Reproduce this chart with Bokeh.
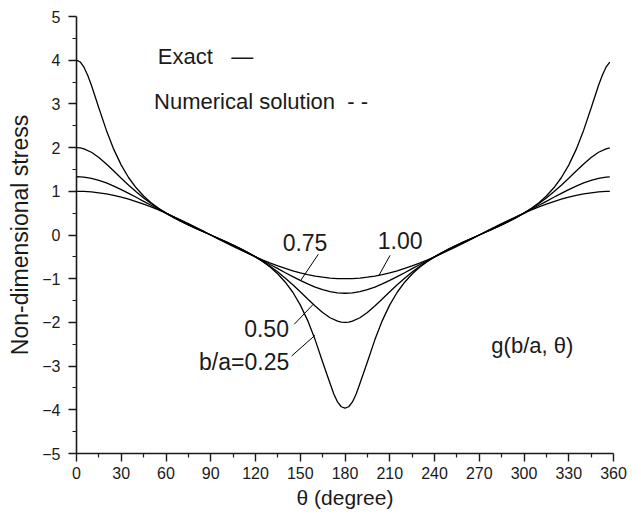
from bokeh.plotting import figure
from bokeh.models import Range1d, FixedTicker, Label
from bokeh.embed import file_html
from bokeh.resources import INLINE

# ---- data ----
theta = ([0, 2.5] + list(range(5, 180, 5)) + [177.5, 180, 182.5]
         + list(range(185, 360, 5)) + [357.5])
theta_025 = ([0, 2.5, 5, 7.5] + list(range(10, 170, 5))
             + [170, 172.5, 175, 177.5, 180, 182.5, 185, 187.5]
             + list(range(190, 355, 5)) + [352.5, 355, 357.5])

g_025 = [4.000, 3.959, 3.839, 3.656,
         3.427, 2.907, 2.399, 1.959, 1.599, 1.310, 1.080, 0.893, 0.740, 0.611, 0.500, 0.402, 0.313, 0.230, 0.151, 0.075, 0.000,
         -0.075, -0.151, -0.230, -0.313, -0.402, -0.500, -0.611, -0.740, -0.893, -1.080, -1.310, -1.599, -1.959, -2.399, -2.907,
         -3.400, -3.640, -3.820, -3.930, -3.960, -3.930, -3.820, -3.640,
         -3.400, -2.907, -2.399, -1.959, -1.599, -1.310, -1.080, -0.893, -0.740, -0.611, -0.500, -0.402, -0.313, -0.230, -0.151, -0.075, 0.000,
         0.075, 0.151, 0.230, 0.313, 0.402, 0.500, 0.611, 0.740, 0.893, 1.080, 1.310, 1.599, 1.959, 2.399, 2.907, 3.427,
         3.656, 3.839, 3.955]

g_050 = [2.000, 1.993, 1.972, 1.894, 1.774, 1.626, 1.464, 1.299, 1.139, 0.988, 0.849, 0.721, 0.606, 0.500, 0.403, 0.314, 0.231, 0.152, 0.075, 0.000,
         -0.075, -0.152, -0.231, -0.314, -0.403, -0.500, -0.606, -0.721, -0.849, -0.988, -1.139, -1.299, -1.464, -1.626, -1.774, -1.894, -1.972, -1.993, -2.000, -1.993,
         -1.972, -1.894, -1.774, -1.626, -1.464, -1.299, -1.139, -0.988, -0.849, -0.721, -0.606, -0.500, -0.403, -0.314, -0.231, -0.152, -0.075, 0.000,
         0.075, 0.152, 0.231, 0.314, 0.403, 0.500, 0.606, 0.721, 0.849, 0.988, 1.139, 1.299, 1.464, 1.626, 1.774, 1.894, 1.972,
         1.993]

g_075 = [1.333, 1.331, 1.324, 1.296, 1.251, 1.191, 1.120, 1.039, 0.953, 0.863, 0.771, 0.680, 0.589, 0.500, 0.413, 0.328, 0.244, 0.162, 0.081, 0.000,
         -0.081, -0.162, -0.244, -0.328, -0.413, -0.500, -0.589, -0.680, -0.771, -0.863, -0.953, -1.039, -1.120, -1.191, -1.251, -1.296, -1.324, -1.331, -1.333, -1.331,
         -1.324, -1.296, -1.251, -1.191, -1.120, -1.039, -0.953, -0.863, -0.771, -0.680, -0.589, -0.500, -0.413, -0.328, -0.244, -0.162, -0.081, 0.000,
         0.081, 0.162, 0.244, 0.328, 0.413, 0.500, 0.589, 0.680, 0.771, 0.863, 0.953, 1.039, 1.120, 1.191, 1.251, 1.296, 1.324,
         1.331]

g_100 = [1.000, 0.999, 0.996, 0.985, 0.966, 0.940, 0.906, 0.866, 0.819, 0.766, 0.707, 0.643, 0.574, 0.500, 0.423, 0.342, 0.259, 0.174, 0.087, 0.000,
         -0.087, -0.174, -0.259, -0.342, -0.423, -0.500, -0.574, -0.643, -0.707, -0.766, -0.819, -0.866, -0.906, -0.940, -0.966, -0.985, -0.996, -0.999, -1.000, -0.999,
         -0.996, -0.985, -0.966, -0.940, -0.906, -0.866, -0.819, -0.766, -0.707, -0.643, -0.574, -0.500, -0.423, -0.342, -0.259, -0.174, -0.087, 0.000,
         0.087, 0.174, 0.259, 0.342, 0.423, 0.500, 0.574, 0.643, 0.707, 0.766, 0.819, 0.866, 0.906, 0.940, 0.966, 0.985, 0.996,
         0.999]

x_ticks = [0, 30, 60, 90, 120, 150, 180, 210, 240, 270, 300, 330, 360]
x_minor = [15, 45, 75, 105, 135, 165, 195, 225, 255, 285, 315, 345]
y_ticks = [-5, -4, -3, -2, -1, 0, 1, 2, 3, 4, 5]
y_minor = [-4.5, -3.5, -2.5, -1.5, -0.5, 0.5, 1.5, 2.5, 3.5, 4.5]

FONT = "Liberation Sans"
INK = "#1a1a1a"

p = figure(frame_width=537, frame_height=437,
           x_range=Range1d(0, 360), y_range=Range1d(-5, 5),
           output_backend="svg", toolbar_location=None,
           min_border_left=76, min_border_right=18, min_border_top=16, min_border_bottom=50)
p.outline_line_color = None
p.xgrid.visible = False
p.ygrid.visible = False
p.background_fill_color = "white"

for ax in (p.xaxis[0], p.yaxis[0]):
    ax.axis_line_width = 1.6
    ax.axis_line_color = INK
    ax.major_tick_line_color = INK
    ax.minor_tick_line_color = INK
    ax.major_tick_line_width = 1.4
    ax.minor_tick_line_width = 1.2
    ax.major_tick_in = 0
    ax.major_tick_out = 8
    ax.minor_tick_in = 0
    ax.minor_tick_out = 4
    ax.major_label_text_font = FONT
    ax.major_label_text_font_size = "16px"
    ax.major_label_text_color = INK
    ax.axis_label_text_font = FONT
    ax.axis_label_text_font_style = "normal"
    ax.axis_label_text_color = INK

p.xaxis.ticker = FixedTicker(ticks=x_ticks, minor_ticks=x_minor)
p.yaxis.ticker = FixedTicker(ticks=y_ticks, minor_ticks=y_minor)
p.xaxis.major_label_standoff = 5
p.yaxis.major_label_standoff = 8
p.xaxis.axis_label = "\u03b8 (degree)"
p.yaxis.axis_label = "Non-dimensional stress"
p.xaxis.axis_label_text_font_size = "21px"
p.yaxis.axis_label_text_font_size = "23px"
p.xaxis.axis_label_standoff = 4
p.yaxis.axis_label_standoff = 6

p.line(theta_025, g_025, line_color="black", line_width=1.3)
for series in (g_050, g_075, g_100):
    p.line(theta, series, line_color="black", line_width=1.3)

# leader lines from labels to curves
p.segment(x0=[162.1, 210.2, 146.0, 144.2], y0=[-0.442, -0.465, -2.043, -2.769],
          x1=[150.5, 202.8, 158.7, 159.9], y1=[-1.030, -0.922, -1.586, -2.295],
          line_color="black", line_width=1.0)

labels = [
    ("Exact\u00a0\u00a0 \u2014", 54.5, 4.08, "left", "22px"),
    ("Numerical solution\u00a0 - -", 52.0, 3.06, "left", "22px"),
    ("0.75", 138.2, -0.174, "left", "23px"),
    ("1.00", 202.0, -0.128, "left", "23px"),
    ("0.50", 112.4, -2.135, "left", "23px"),
    ("b/a=0.25", 142.6, -2.897, "right", "23px"),
    ("g(b/a, \u03b8)", 278.1, -2.54, "left", "22px"),
]
for txt, x, y, align, size in labels:
    p.add_layout(Label(x=x, y=y, text=txt, text_align=align, text_baseline="alphabetic",
                       text_font=FONT, text_font_size=size, text_color=INK))

open("out.html", "w").write(file_html(p, INLINE))
